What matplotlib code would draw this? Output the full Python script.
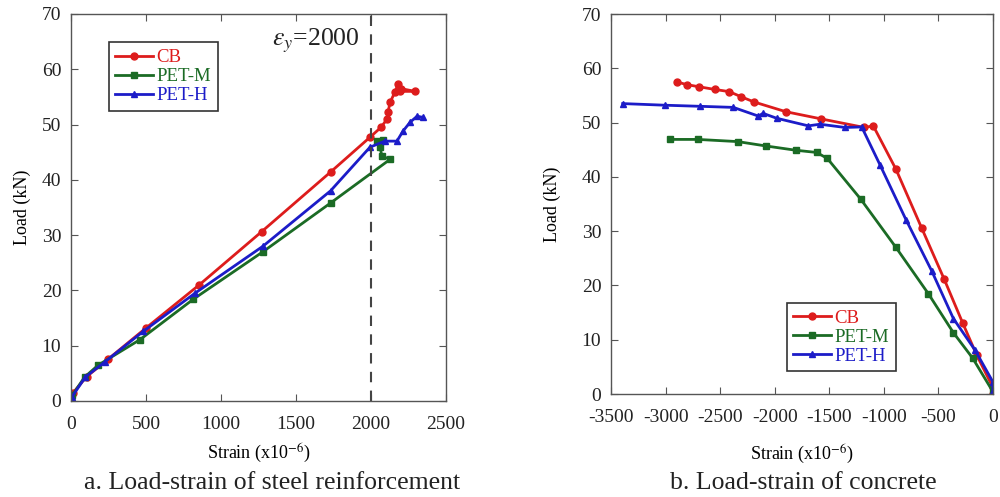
import matplotlib
matplotlib.use("Agg")
import matplotlib.pyplot as plt

plt.rcParams['font.family'] = ['Liberation Serif', 'DejaVu Serif']
plt.rcParams['mathtext.fontset'] = 'stix'
plt.rcParams['axes.unicode_minus'] = False

# ---- data: (a) steel reinforcement ----
cb_steel_x = [0, 11, 104, 249, 500, 855, 1270, 1730, 1993, 2067, 2107, 2113, 2127, 2160, 2180, 2200, 2293, 2193]
cb_steel_y = [0, 1.4, 4.4, 7.6, 13.2, 21.0, 30.6, 41.4, 47.7, 49.5, 51.0, 52.2, 54.0, 55.9, 57.3, 56.5, 56.0, 56.0]
pm_steel_x = [0, 8, 90, 182, 460, 815, 1280, 1730, 2127, 2073, 2060, 2040, 2080]
pm_steel_y = [0, 1.0, 4.3, 6.5, 11.1, 18.4, 27.0, 35.8, 43.7, 44.3, 45.9, 47.0, 47.2]
ph_steel_x = [0, 8, 95, 227, 482, 827, 1280, 1730, 1993, 2093, 2173, 2213, 2260, 2307, 2347]
ph_steel_y = [0, 0.8, 4.3, 7.1, 12.6, 19.5, 28.0, 38.0, 45.9, 47.0, 47.0, 48.8, 50.4, 51.5, 51.3]

# ---- data: (b) concrete ----
cb_conc_x = [-2898, -2807, -2694, -2547, -2416, -2312, -2190, -1897, -1579, -1179, -1097, -889, -654, -446, -278, -150, -3, 0]
cb_conc_y = [57.5, 57.0, 56.6, 56.1, 55.7, 54.8, 53.8, 52.0, 50.7, 49.1, 49.4, 41.4, 30.6, 21.1, 13.1, 7.2, 1.3, 0]
pm_conc_x = [-2959, -2706, -2339, -2083, -1805, -1616, -1518, -1212, -889, -593, -363, -186, 0]
pm_conc_y = [46.9, 46.9, 46.5, 45.7, 44.9, 44.5, 43.4, 35.9, 27.0, 18.5, 11.3, 6.6, 0.4]
ph_conc_x = [-3393, -3005, -2685, -2379, -2150, -2107, -1982, -1692, -1585, -1356, -1203, -1035, -797, -562, -363, -165, -3, 0]
ph_conc_y = [53.5, 53.2, 53.0, 52.8, 51.2, 51.7, 50.8, 49.4, 49.7, 49.1, 49.2, 42.2, 32.1, 22.7, 13.9, 8.1, 2.3, 0.5]

labels = ['CB', 'PET-M', 'PET-H']
colors = ['#dd1c1c', '#1b6b25', '#1c1cc8']
markers = ['o', 's', '^']

fig = plt.figure(figsize=(10, 4.97), dpi=100)
ax1 = fig.add_axes([0.071, 0.1932, 0.375, 0.7787])
ax2 = fig.add_axes([0.611, 0.2072, 0.382, 0.7646])

def style(ax):
    for s in ax.spines.values():
        s.set_color('#555555')
        s.set_linewidth(1.0)
    ax.tick_params(direction='in', top=True, right=True, length=5,
                   color='#555555', labelsize=14, labelcolor='#222222')
    ax.tick_params(axis='x', pad=11)
    ax.tick_params(axis='y', pad=7)

series1 = [(cb_steel_x, cb_steel_y), (pm_steel_x, pm_steel_y), (ph_steel_x, ph_steel_y)]
series2 = [(cb_conc_x, cb_conc_y), (pm_conc_x, pm_conc_y), (ph_conc_x, ph_conc_y)]

for ax, series, ypad, xpad in ((ax1, series1, 8, 6), (ax2, series2, 15, 12)):
    for (x, y), lab, c, m in zip(series, labels, colors, markers):
        ax.plot(x, y, color=c, marker=m, markersize=5, linewidth=2.0, label=lab)
    style(ax)
    ax.set_ylim(0, 70)
    ax.set_yticks(range(0, 71, 10))
    ax.set_ylabel('Load (kN)', fontsize=13, labelpad=ypad)
    ax.set_xlabel('Strain (x10$^{-6}$)', fontsize=13, labelpad=xpad)

ax1.set_xlim(0, 2500)
ax1.set_xticks(range(0, 2501, 500))
ax2.set_xlim(-3500, 0)
ax2.set_xticks(range(-3500, 1, 500))

ax1.axvline(2000, color='#444444', linestyle=(0, (5, 4)), linewidth=1.5)
ax1.text(1340, 65.2, r'$\varepsilon_y$=2000', fontsize=18.5, va='center', ha='left', color='#222222')

for ax, loc in ((ax1, (0.1, 0.75)), (ax2, (0.46, 0.06))):
    leg = ax.legend(loc='lower left', bbox_to_anchor=loc, fontsize=13.5, frameon=True,
                    fancybox=False, edgecolor='#333333', framealpha=1,
                    handlelength=2.0, handletextpad=0.2, borderpad=0.35,
                    labelspacing=0.1, borderaxespad=0)
    leg.get_frame().set_linewidth(1.2)
    for t, c in zip(leg.get_texts(), colors):
        t.set_color(c)

fig.text(0.272, 0.028, 'a. Load-strain of steel reinforcement', fontsize=18.5, ha='center', va='center', color='#222222')
fig.text(0.803, 0.028, 'b. Load-strain of concrete', fontsize=18.5, ha='center', va='center', color='#222222')

fig.savefig('out.png', dpi=100)
